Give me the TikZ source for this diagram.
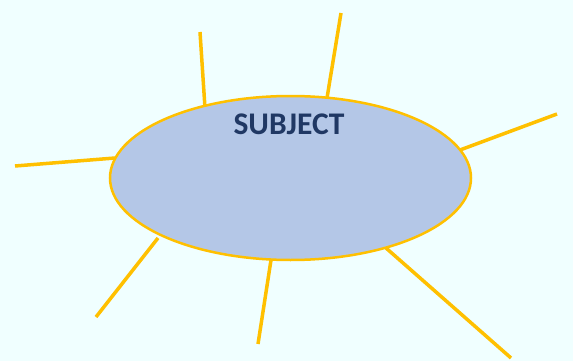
\documentclass[tikz,border=0pt]{standalone}
\usepackage{fontspec}
\setmainfont{Carlito}
\definecolor{bgc}{HTML}{F0FFFF}
\definecolor{gold}{HTML}{FFC000}
\definecolor{fillb}{HTML}{B4C7E7}
\definecolor{navy}{HTML}{203864}
\begin{document}
\begin{tikzpicture}[x=1pt,y=-1pt,
  ray/.style={draw=gold,line width=3.5pt},
]
\fill[bgc] (0,0) rectangle (573,361);
\useasboundingbox (0,0) rectangle (573,361);
\coordinate (a1) at (200,32);  \coordinate (b1) at (205,108);
\coordinate (a2) at (341,13);  \coordinate (b2) at (327,98);
\coordinate (a3) at (557,114); \coordinate (b3) at (460,150);
\coordinate (a4) at (15,166);  \coordinate (b4) at (115,158);
\coordinate (a5) at (158,238); \coordinate (b5) at (96,317);
\coordinate (a6) at (271,260); \coordinate (b6) at (258,344);
\coordinate (a7) at (386,248); \coordinate (b7) at (511,358);
\foreach \i in {1,...,7} \draw[ray] (a\i) -- (b\i);
\filldraw[fill=fillb,draw=gold,line width=2.5pt] (290.5,178) ellipse [x radius=180.5pt, y radius=82pt];
\node[text=navy,font=\fontsize{31.5}{33}\selectfont\bfseries,inner sep=0pt] (s) at (289,124) {SUBJECT};
\end{tikzpicture}
\end{document}
